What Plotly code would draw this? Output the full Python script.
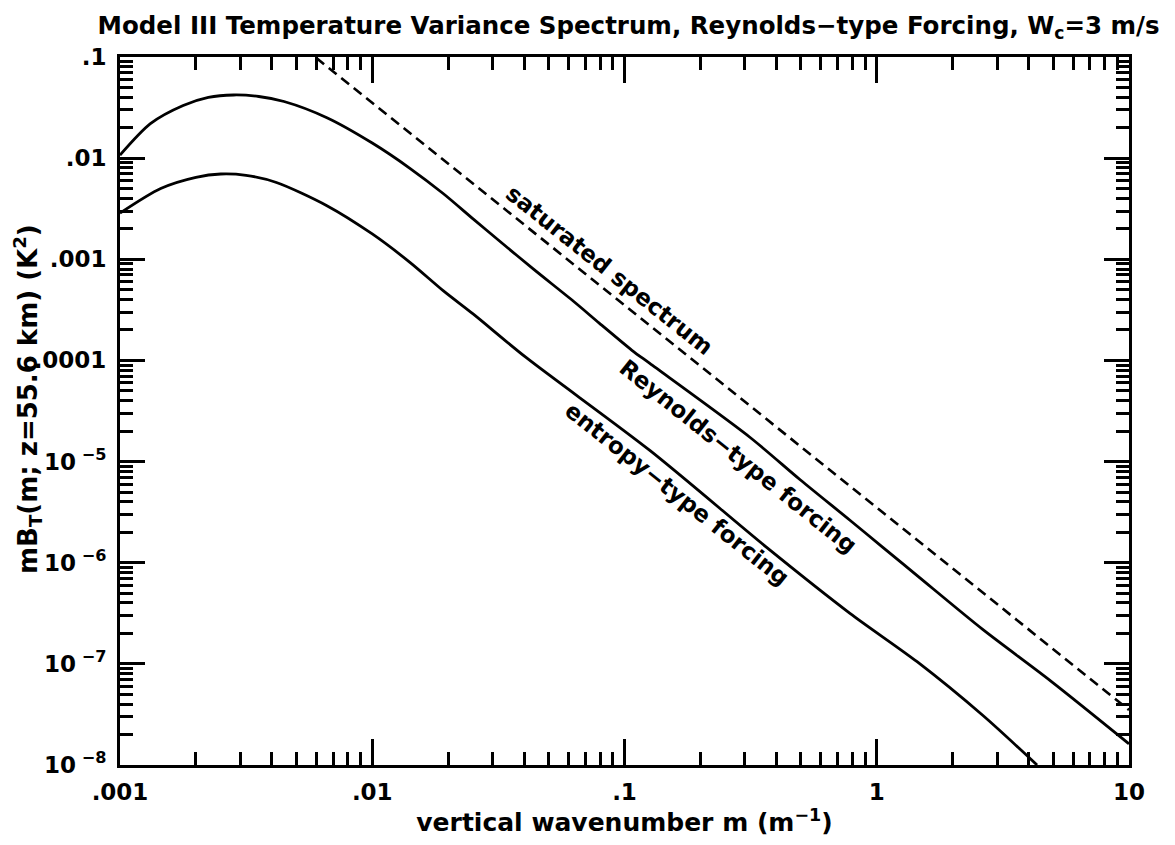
import plotly.graph_objects as go

# vertical wavenumber m (1/m) and mB_T values (K^2)
rey_m = [0.001, 0.00132, 0.00178, 0.00224, 0.00282, 0.00355, 0.00447, 0.00661, 0.0100,
         0.0141, 0.0191, 0.0251, 0.0316, 0.0437, 0.0631, 0.0794, 0.107, 0.126, 0.314,
         0.497, 0.783, 1.06, 1.45, 2.63, 4.90, 10.0]
rey_v = [0.0107, 0.0219, 0.0331, 0.0398, 0.0421, 0.0407, 0.0363, 0.0251, 0.0141,
         0.00794, 0.00447, 0.00251, 0.00155, 7.94e-4, 3.80e-4, 2.34e-4, 1.26e-4, 9.33e-5, 1.74e-5,
         6.61e-6, 2.63e-6, 1.41e-6, 7.41e-7, 2.19e-7, 6.76e-8, 1.62e-8]

ent_m = [0.001, 0.00145, 0.002, 0.00251, 0.00316, 0.00417, 0.00661, 0.0100, 0.0141,
         0.0191, 0.0251, 0.0407, 0.126, 0.367, 0.783, 1.445, 2.63, 4.32]
ent_v = [0.00286, 0.00501, 0.00646, 0.00697, 0.00676, 0.00575, 0.00339, 0.00178, 9.33e-4,
         4.90e-4, 2.88e-4, 1.07e-4, 1.29e-5, 1.41e-6, 3.16e-7, 1.05e-7, 3.1e-8, 1.0e-8]

sat_m = [0.006, 10.0]
sat_v = [0.098, 3.5e-8]

x_tickvals = [0.001, 0.01, 0.1, 1, 10]
x_ticktext = ['.001', '.01', '.1', '1', '10']
y_tickvals = [1e-8, 1e-7, 1e-6, 1e-5, 1e-4, 1e-3, 1e-2, 1e-1]
y_ticktext = ['10<sup> −8</sup>', '10<sup> −7</sup>', '10<sup> −6</sup>', '10<sup> −5</sup>',
              '.0001', '.001', '.01', '.1']

FONT = 'DejaVu Sans'


def bold(s):
    return '<b>' + s + '</b>'


fig = go.Figure()
fig.add_trace(go.Scatter(x=sat_m, y=sat_v, mode='lines',
                         line=dict(color='black', width=2.6, dash='10px,6px')))
fig.add_trace(go.Scatter(x=rey_m, y=rey_v, mode='lines',
                         line=dict(color='black', width=2.8, shape='spline', smoothing=0.8)))
fig.add_trace(go.Scatter(x=ent_m, y=ent_v, mode='lines',
                         line=dict(color='black', width=2.8, shape='spline', smoothing=0.8)))

x_minor = [k * 10 ** e for e in range(-3, 1) for k in range(2, 10)]
y_minor = [k * 10 ** e for e in range(-8, -1) for k in range(2, 10)]

fig.update_xaxes(type='log', range=[-3, 1], tickvals=x_tickvals,
                 ticktext=[bold(t) for t in x_ticktext],
                 ticks='inside', ticklen=26, tickwidth=2.5, tickcolor='black',
                 showline=True, linewidth=3, linecolor='black', mirror='ticks',
                 showgrid=False, zeroline=False, ticklabelstandoff=4,
                 tickfont=dict(family=FONT, size=23, color='black'),
                 minor=dict(tickvals=x_minor, ticks='inside', ticklen=13, tickwidth=2.5,
                            tickcolor='black', showgrid=False),
                 title=dict(text=bold('vertical wavenumber m (m<sup>−1</sup>)'),
                            font=dict(family=FONT, size=25, color='black'), standoff=2))
fig.update_yaxes(type='log', range=[-8, -1], tickvals=y_tickvals,
                 ticktext=[bold(t) for t in y_ticktext],
                 ticks='inside', ticklen=25, tickwidth=2.5, tickcolor='black',
                 showline=True, linewidth=3, linecolor='black', mirror='ticks',
                 showgrid=False, zeroline=False, ticklabelstandoff=6,
                 tickfont=dict(family=FONT, size=23, color='black'),
                 minor=dict(tickvals=y_minor, ticks='inside', ticklen=13, tickwidth=2.5,
                            tickcolor='black', showgrid=False))

ann_font = dict(family=FONT, size=23, color='black')
fig.add_annotation(x=0, y=0.5, xref='paper', yref='paper', xshift=-93, yshift=12,
                   showarrow=False,
                   text=bold('mB<sub>T</sub>(m; z=55.6 km) (K<sup>2</sup>)'), textangle=-90,
                   font=dict(family=FONT, size=26, color='black'),
                   xanchor='center', yanchor='middle')
fig.add_annotation(x=-1.06, y=-3.11, xref='x', yref='y', showarrow=False,
                   text=bold('saturated spectrum'), textangle=38.5, font=ann_font)
fig.add_annotation(x=-0.55, y=-4.94, xref='x', yref='y', showarrow=False,
                   text=bold('Reynolds−type forcing'), textangle=38.5, font=ann_font)
fig.add_annotation(x=-0.79, y=-5.32, xref='x', yref='y', showarrow=False,
                   text=bold('entropy−type forcing'), textangle=38.5, font=ann_font)

fig.update_layout(
    width=1175, height=845,
    margin=dict(l=120, r=46, t=57, b=80),
    plot_bgcolor='white', paper_bgcolor='white', showlegend=False,
    font=dict(family=FONT, color='black'),
    title=dict(text=bold('Model III Temperature Variance Spectrum, Reynolds−type Forcing, W<sub>c</sub>=3 m/s'),
               x=0.535, xanchor='center', y=1 - 25 / 845, yanchor='middle', yref='container',
               font=dict(family=FONT, size=24.5, color='black')),
)

fig.write_html('out.html')
